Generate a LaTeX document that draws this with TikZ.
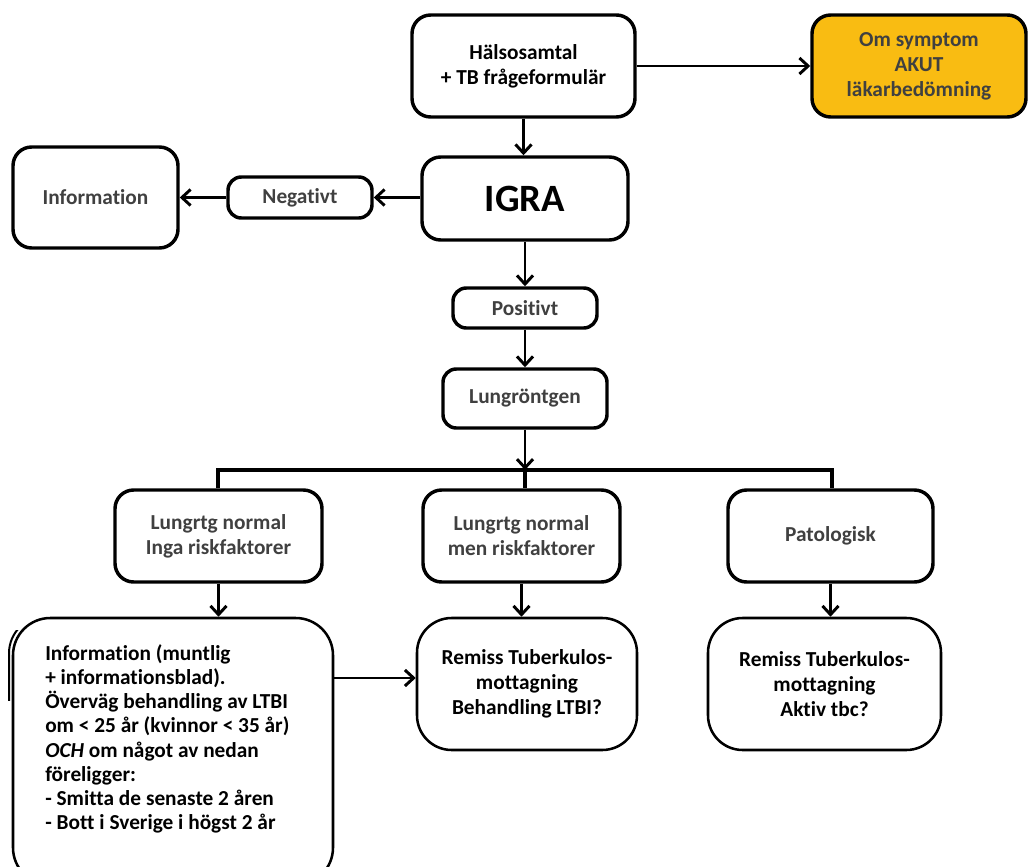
\documentclass[tikz,border=0pt]{standalone}
\usepackage{fontspec}
\setmainfont{Carlito}[Ligatures=NoCommon]
\usetikzlibrary{arrows.meta}
\definecolor{txtgray}{HTML}{404040}
\definecolor{akutfill}{HTML}{F9BC12}
\begin{document}
\begin{tikzpicture}[x=0.75pt,y=-0.75pt,
  sz/.style 2 args={minimum width=#1*0.75pt, minimum height=#2*0.75pt},
  box/.style={draw, line width=2.6pt, rounded corners=10pt, inner sep=0pt, align=center, fill=white,
    font=\fontsize{16}{18.75}\selectfont\bfseries},
  graytext/.style={text=txtgray},
  lowbox/.style={box, line width=1.9pt, rounded corners=26pt},
  arr/.style={line width=2.2pt, -{Straight Barb[length=6.5pt,width=12pt]}},
  branch/.style={line width=3pt}
]
\fill[white] (0,0) rectangle (1029,867);
\useasboundingbox (0,0) rectangle (1029,867);

\node[box, rounded corners=14pt, sz={223}{102}] (hals) at (523.5,66) {Hälsosamtal\\+ TB frågeformulär};
\node[box, rounded corners=14pt, fill=akutfill, graytext, sz={214}{102}] (akut) at (919,66) {Om symptom\\AKUT\\läkarbedömning};
\node[box, rounded corners=14pt, sz={206}{83}, font=\fontsize{29}{30}\selectfont\bfseries] (igra) at (525,198.5) {\raisebox{-3pt}{IGRA}};
\node[box, graytext, rounded corners=14pt, sz={165}{101}] (info) at (95.5,197.5) {Information};
\node[box, graytext, sz={144}{41}] (neg) at (300,197.5) {Negativt};
\node[box, graytext, sz={144}{40}] (pos) at (525,308) {Positivt};
\node[box, graytext, sz={164}{59}] (lung) at (525,398.5) {Lungröntgen};
\node[box, graytext, rounded corners=14pt, sz={207}{92}] (b1) at (218.5,536) {Lungrtg normal\\Inga riskfaktorer};
\node[box, graytext, rounded corners=14pt, sz={197}{92}] (b2) at (521.5,536) {Lungrtg normal\\men riskfaktorer};
\node[box, graytext, rounded corners=14pt, sz={205}{92}] (b3) at (830.5,536) {Patologisk};
\node[lowbox, sz={220}{132}] (r2) at (527,684) {Remiss Tuberkulos-\\mottagning\\Behandling LTBI?};
\node[lowbox, sz={233}{132}] (r3) at (824.5,684) {Remiss Tuberkulos-\\mottagning\\Aktiv tbc?};

\begin{scope}
  \clip (0,630) rectangle (28,700);
  \draw[line width=1.5pt, rounded corners=28pt] (9,616) rectangle (329,885);
\end{scope}
\node[lowbox, rounded corners=28pt, sz={320}{267}] (big) at (173,751.5) {};
\node[anchor=north west, inner sep=0pt, align=left, font=\fontsize{16}{18.2}\selectfont\bfseries] (bigtext) at (45,644)
  {Information (muntlig\\+ informationsblad).\\Överväg behandling av LTBI\\om < 25 år (kvinnor < 35 år)\\\textit{OCH} om något av nedan\\föreligger:\\- Smitta de senaste 2 åren\\- Bott i Sverige i högst 2 år};

\coordinate (yb) at (0,470);
\coordinate (ya) at (0,678);
\coordinate (jl) at (218,470);
\coordinate (jr) at (832,470);

\draw[arr] (hals) -- (akut);
\draw[arr] (hals.south) -- (hals.south |- igra.north);
\draw[arr] (igra.west |- neg.east) -- (neg.east);
\draw[arr] (neg.west) -- (info.east |- neg.west);
\draw[arr] (igra.south) -- (igra.south |- pos.north);
\draw[arr] (pos.south) -- (pos.south |- lung.north);
\coordinate (j) at (lung.south |- yb);
\draw[arr] (lung.south) -- (j);
\draw[branch] (b1.north -| jl) -- (jl) -- (jr) -- (b3.north -| jr);
\draw[branch] (j) -- (b2.north -| j);
\draw[arr] (b1.south) -- (b1.south |- big.north);
\draw[arr] (b2.south) -- (b2.south |- r2.north);
\draw[arr] (b3.south) -- (b3.south |- r3.north);
\draw[arr] (big.east |- ya) -- (r2.west |- ya);
\end{tikzpicture}
\end{document}
